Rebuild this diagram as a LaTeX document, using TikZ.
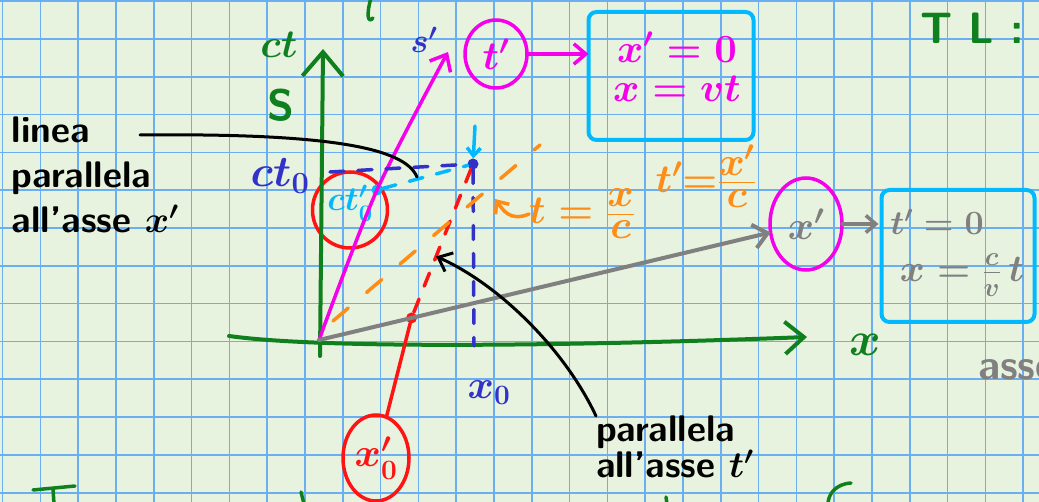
\RequirePackage{fix-cm}
\documentclass[tikz,border=0pt]{standalone}
\usetikzlibrary{positioning,calc,shapes.geometric,arrows.meta}
\definecolor{paper}{RGB}{232,243,223}
\definecolor{gridblue}{RGB}{105,175,242}
\definecolor{inkgreen}{RGB}{16,128,30}
\definecolor{inkpink}{RGB}{245,0,235}
\definecolor{inkblue}{RGB}{50,50,200}
\definecolor{inkcyan}{RGB}{0,185,255}
\definecolor{inkred}{RGB}{255,20,20}
\definecolor{inkorange}{RGB}{255,140,20}
\definecolor{inkgrey}{RGB}{128,128,128}
\begin{document}
\begin{tikzpicture}[x=1pt,y=-1pt,
  every node/.style={inner sep=0pt, outer sep=0pt},
  gridline/.style={gridblue, line width=1.6pt},
  ink/.style={line width=3.5pt, line cap=round, line join=round},
  greenaxis/.style={ink, inkgreen, line width=4pt},
  dashline/.style={ink, dash pattern=on 14pt off 14pt},
  inkbox/.style={draw=inkcyan, line width=4pt, rounded corners=8pt},
  ring/.style={draw, ellipse, line width=3.5pt},
  bigmath/.style={font=\fontsize{40}{44}\selectfont\boldmath},
  midmath/.style={font=\fontsize{34}{38}\selectfont\boldmath},
  fracmath/.style={font=\fontsize{40}{44}\selectfont\boldmath},
  hand/.style={font=\sffamily\bfseries\fontsize{37}{45}\selectfont\boldmath, align=left},
  inkdot/.style={circle, minimum size=11pt},
  barb/.style={-{Straight Barb[length=#1, width=1.7*#1]}}]
  \useasboundingbox (0,0) rectangle (1039,502);
  \clip (0,0) rectangle (1039,502);
  \fill[paper] (0,0) rectangle (1039,502);
  \foreach \k in {0,...,27}
    \draw[gridline] ({2.5+37.8*\k},0) -- ({2.5+37.8*\k},502);
  \foreach \k in {0,...,13}
    \draw[gridline] (0,{1.3+37.8*\k}) -- (1039,{1.3+37.8*\k});

  \coordinate (O) at (319,340);
  \coordinate (ctBot) at (320,356);
  \coordinate (ctTip) at (323,49);
  \coordinate (xStart) at (229,336);
  \coordinate (xTip) at (807,337);
  \coordinate (spTip) at (448,52);
  \coordinate (ctp0) at (377,190);
  \coordinate (ct0) at (330,172);
  \coordinate (x0) at (474,346);
  \coordinate (lc1) at (333,321);
  \coordinate (lc2) at (540,145);
  \coordinate (cyTop) at (475,126);
  \coordinate (kA) at (140,135);
  \coordinate (kB) at (417,177);

  \node[ring, draw=inkpink, text=inkpink, minimum width=62pt, minimum height=68pt, bigmath] (tp) at (496,54) {$t'$};
  \node[inkbox, minimum width=165pt, minimum height=128pt] (boxS) at (671,76) {};
  \node[bigmath, text=inkpink] (eqS1) at (677,47) {$x'=0$};
  \node[bigmath, text=inkpink, below=14pt of eqS1] (eqS2) {$x=vt$};
  \node[text=inkgreen, font=\sffamily\bfseries\fontsize{44}{50}\selectfont] (tl) at (972,28) {T L :};

  \node[hand, anchor=north west] (lineaTxt) at (12,117) {linea\\parallela\\all'asse $x'$};
  \node[hand, font=\sffamily\bfseries\fontsize{37}{28}\selectfont\boldmath, anchor=north west] (parT) at (596,416) {parallela\\all'asse $t'$};

  \node[bigmath, text=inkgreen] (ctLbl) at (279,45) {$ct$};
  \node[text=inkgreen, font=\sffamily\bfseries\fontsize{44}{50}\selectfont] (SLbl) at (281,105) {S};
  \node[midmath, text=inkblue] (spLbl) at (424,40) {$s'$};
  \node[font=\fontsize{44}{48}\selectfont\boldmath, text=inkblue] (ct0Lbl) at (280,176) {$ct_0$};
  \node[ring, draw=inkred, minimum width=75pt, minimum height=76pt] (ctp0Ring) at (350,210) {};
  \node[midmath, text=inkcyan] (ctp0Lbl) at (350,203) {$ct'_0$};
  \node[ring, draw=inkred, text=inkred, minimum width=66pt, minimum height=86pt, bigmath] (xp0Ring) at (376,458) {$x'_0$};
  \node[bigmath, text=inkblue] (x0Lbl) at (489,393) {$x_0$};
  \node[font=\fontsize{48}{52}\selectfont\boldmath, text=inkgreen] (xLbl) at (865,345) {$x$};

  \node[ring, draw=inkpink, text=inkgrey, minimum width=72pt, minimum height=92pt, bigmath] (xp) at (806,224) {$x'$};
  \node[inkbox, minimum width=153pt, minimum height=132pt] (boxSp) at (958,256) {};
  \node[midmath, text=inkgrey] (eqSp1) at (937,222) {$t'=0$};
  \node[font=\fontsize{38}{42}\selectfont\boldmath, text=inkgrey] (eqSp2) at (962,275) {$x=\frac{c}{v}\,t$};
  \node[text=inkgrey, font=\sffamily\bfseries\fontsize{42}{46}\selectfont, anchor=west] (asseLbl) at (978,370) {asse};

  \node[fracmath, text=inkorange] (tEq) at (582,214) {$t=\frac{\textstyle x}{\textstyle c}$};
  \node[fracmath, text=inkorange] (tpEq) at (706,176) {$t'{=}\frac{\textstyle x'}{\textstyle c}$};

  \node[inkdot, fill=inkblue] (Pdot) at (473,164) {};
  \node[inkdot, fill=inkcyan] (ctp0dot) at (ctp0) {};
  \coordinate (xp0) at ($(O)!0.19!(xp)$);
  \node[inkdot, fill=inkred] (xp0dot) at (xp0) {};
  \coordinate (kTip) at ($(Pdot)!0.6!(xp0dot)$);

  \draw[greenaxis, barb=24pt] (ctBot) -- (ctTip);
  \draw[greenaxis, barb=19pt] (xStart) .. controls (330,350) and (600,345) .. (xTip);
  \draw[ink, inkpink, barb=14pt] plot[smooth, tension=0.5] coordinates {(O) (ctp0) (spTip)};
  \draw[ink, inkgrey, line width=4pt, barb=14pt] (O) -- (xp);

  \draw[dashline, inkblue] (ct0) -- (Pdot);
  \draw[dashline, inkcyan] (ctp0dot) -- (Pdot);
  \draw[dashline, inkred] (Pdot) -- (xp0dot);
  \draw[ink, inkred] (xp0dot) -- (xp0Ring);
  \draw[dashline, inkblue] (Pdot) -- (x0);
  \draw[dashline, inkorange, dash pattern=on 20pt off 24pt] (lc1) -- (lc2);
  \draw[ink, inkcyan, barb=8pt] (cyTop) -- (Pdot);

  \draw[ink, line width=3pt] (kA) .. controls (330,133) and (405,148) .. (kB);
  \draw[ink, line width=3pt, barb=12pt] (parT.north west) .. controls (565,350) and (500,285) .. (kTip);
  \draw[ink, inkorange, barb=10pt] (tEq.west) .. controls (510,222) and (503,210) .. (495,199);

  \draw[ink, inkpink, barb=12pt] (tp.east) -- (tp.east -| boxS.west);
  \draw[ink, inkgrey, barb=10pt, shorten >=3pt] (xp.east) -- (xp.east -| boxSp.west);

  \draw[ink, inkgreen] (371,-2) .. controls (366,15) and (368,24) .. (373,18);
  \draw[ink, inkgreen] (33,490) -- (75,486);
  \draw[ink, inkgreen] (53,489) -- (54,504);
  \draw[ink, inkgreen] (301,492) -- (304,504);
  \draw[ink, inkgreen] (666,497) -- (667,504);
  \draw[ink, inkgreen] (851,483) .. controls (835,484) and (828,495) .. (828,504);
\end{tikzpicture}
\end{document}
